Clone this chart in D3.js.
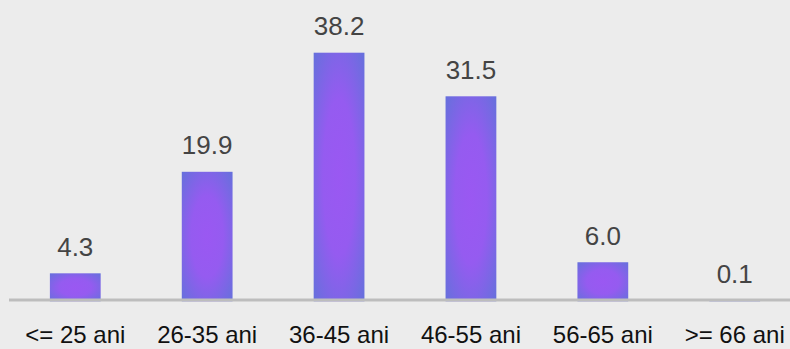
<!DOCTYPE html>
<html><head><meta charset="utf-8">
<script src="https://cdn.jsdelivr.net/npm/d3@7"></script>
<style>html,body{margin:0;padding:0;background:#ececec;}svg{display:block;}</style>
</head><body>
<script>
const categories = ["<= 25 ani","26-35 ani","36-45 ani","46-55 ani","56-65 ani",">= 66 ani"];
const values = [4.3, 19.9, 38.2, 31.5, 6.0, 0.1];
const valueLabels = ["4.3","19.9","38.2","31.5","6.0","0.1"];

const W = 790, H = 349;
const svg = d3.select("body").append("svg").attr("width", W).attr("height", H);
svg.append("rect").attr("width", W).attr("height", H).attr("fill", "#ececec");

const defs = svg.append("defs");
const grad = defs.append("radialGradient").attr("id","barGrad").attr("cx","50%").attr("cy","50%").attr("r","70%");
grad.append("stop").attr("offset","0%").attr("stop-color","#9a58f2");
grad.append("stop").attr("offset","45%").attr("stop-color","#955bf0");
grad.append("stop").attr("offset","100%").attr("stop-color","#6670dc");

const x = d3.scaleBand().domain(categories).range([9, 801]).paddingInner(0.615).paddingOuter(0.31);
const y = d3.scaleLinear().domain([0, 38.2]).range([301.3, 52.7]);

svg.selectAll("rect.bar").data(values).enter().append("rect")
  .attr("class","bar")
  .attr("x", (d,i) => x(categories[i]))
  .attr("y", d => y(d))
  .attr("width", x.bandwidth())
  .attr("height", d => y(0) - y(d))
  .attr("fill", "url(#barGrad)");

svg.append("line").attr("x1", 9).attr("x2", 790).attr("y1", 300).attr("y2", 300)
  .attr("stroke", "#bdbdbd").attr("stroke-width", 3);

svg.selectAll("text.val").data(values).enter().append("text")
  .attr("class","val")
  .attr("x", (d,i) => x(categories[i]) + x.bandwidth()/2)
  .attr("y", d => y(d) - 17.5)
  .attr("text-anchor","middle")
  .attr("font-family","'Liberation Sans', Arial, sans-serif")
  .attr("font-size", 26)
  .attr("fill","#444")
  .text((d,i) => valueLabels[i]);

svg.selectAll("text.cat").data(categories).enter().append("text")
  .attr("class","cat")
  .attr("x", d => x(d) + x.bandwidth()/2)
  .attr("y", 343)
  .attr("text-anchor","middle")
  .attr("font-family","'Liberation Sans', Arial, sans-serif")
  .attr("font-size", 24)
  .attr("fill","#111")
  .text(d => d);
</script>
</body></html>
